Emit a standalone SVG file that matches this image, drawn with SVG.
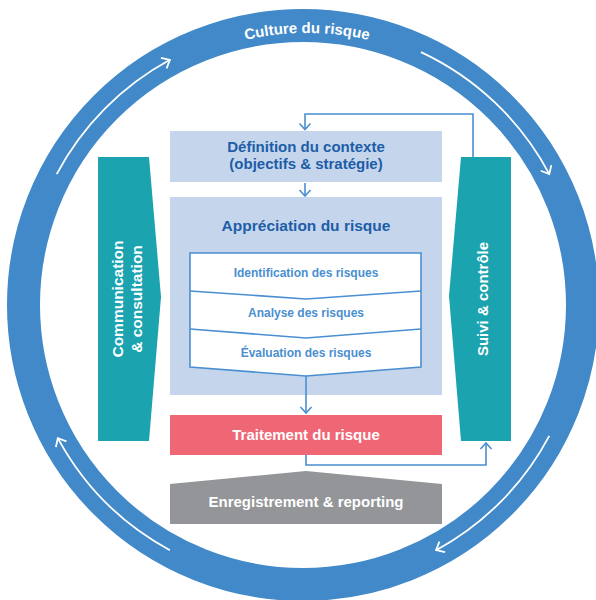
<svg xmlns="http://www.w3.org/2000/svg" width="596" height="600" viewBox="0 0 596 600">
<style>
.t{font-family:"Liberation Sans",Arial,sans-serif;font-weight:bold}
.w{fill:#ffffff}
.dk{fill:#1d5da8}
.md{fill:#4a8fd0}
.conn{fill:none;stroke:#4a8fd0;stroke-width:1.6}
.warc{fill:none;stroke:#ffffff;stroke-width:1.8}
</style>
<defs>
<marker id="wa" markerUnits="userSpaceOnUse" markerWidth="20" markerHeight="20" refX="0" refY="0" viewBox="-10 -10 20 20" orient="auto">
<path d="M-7,-6 L0,0 L-7,6" fill="none" stroke="#ffffff" stroke-width="1.8"/>
</marker>
<marker id="ba" markerUnits="userSpaceOnUse" markerWidth="20" markerHeight="20" refX="0" refY="0" viewBox="-10 -10 20 20" orient="auto">
<path d="M-6,-5.5 L0,0 L-6,5.5" fill="none" stroke="#4a8fd0" stroke-width="1.6"/>
</marker>
<path id="cpath" d="M71.4,169 A272,272 0 0 1 542.6,169"/>
</defs>

<g id="ring">
<circle cx="303" cy="305" r="279.5" fill="none" stroke="#4189c8" stroke-width="33"/>
<path class="warc" d="M56.7,174.1 A279,279 0 0 1 169.9,59.8" marker-end="url(#wa)"/>
<path class="warc" d="M421,52.1 A279,279 0 0 1 549.3,174.1" marker-end="url(#wa)"/>
<path class="warc" d="M549.3,435.9 A279,279 0 0 1 436.1,550.2" marker-end="url(#wa)"/>
<path class="warc" d="M169.9,550.2 A279,279 0 0 1 57.8,438.1" marker-end="url(#wa)"/>
<text class="t w" font-size="15"><textPath href="#cpath" startOffset="50%" text-anchor="middle">Culture du risque</textPath></text>
</g>

<g id="communication">
<polygon points="98,157 149,157 161,297 149,441 98,441" fill="#1ba3b0"/>
<text class="t w" font-size="15.5" text-anchor="middle" transform="translate(123,299) rotate(-90)">Communication</text>
<text class="t w" font-size="15.5" text-anchor="middle" transform="translate(142,299) rotate(-90)">&amp; consultation</text>
</g>

<g id="suivi">
<polygon points="461,157 511,157 511,441 461,441 449,296" fill="#1ba3b0"/>
<text class="t w" font-size="15" text-anchor="middle" transform="translate(488,299) rotate(-90)">Suivi &amp; contrôle</text>
</g>

<g id="contexte">
<rect x="170" y="131" width="272" height="51" fill="#c5d6ec"/>
<text class="t dk" font-size="15" text-anchor="middle" x="306" y="152">Définition du contexte</text>
<text class="t dk" font-size="15" text-anchor="middle" x="306" y="169">(objectifs &amp; stratégie)</text>
</g>

<g id="appreciation">
<rect x="170" y="197" width="272" height="198" fill="#c5d6ec"/>
<text class="t dk" font-size="15.5" text-anchor="middle" x="306" y="231">Appréciation du risque</text>
<polygon points="190,253 421,253 421,367 306,376 190,367" fill="#ffffff" stroke="#4a8fd0" stroke-width="1.6"/>
<polyline points="190,291 306,299 421,291" fill="none" stroke="#4a8fd0" stroke-width="1.6"/>
<polyline points="190,329 306,338 421,329" fill="none" stroke="#4a8fd0" stroke-width="1.6"/>
</g>

<g id="identification">
<text class="t md" font-size="12" text-anchor="middle" x="306" y="277">Identification des risques</text>
</g>
<g id="analyse">
<text class="t md" font-size="12" text-anchor="middle" x="306" y="317">Analyse des risques</text>
</g>
<g id="evaluation">
<text class="t md" font-size="12" text-anchor="middle" x="306" y="357">Évaluation des risques</text>
</g>

<g id="traitement">
<rect x="170" y="415" width="272" height="40" fill="#ef6675"/>
<text class="t w" font-size="15" text-anchor="middle" x="306" y="440">Traitement du risque</text>
</g>

<g id="enregistrement">
<polygon points="170,484 306,471 442,484 442,524 170,524" fill="#939598"/>
<text class="t w" font-size="15" text-anchor="middle" x="306" y="507">Enregistrement &amp; reporting</text>
</g>

<g id="connectors">
<path class="conn" d="M473,157 V114 H305 V129.5" marker-end="url(#ba)"/>
<path class="conn" d="M305,183 V196" marker-end="url(#ba)"/>
<path class="conn" d="M306,376 V413" marker-end="url(#ba)"/>
<path class="conn" d="M306,455 V465 H486 V443" marker-end="url(#ba)"/>
</g>
</svg>
